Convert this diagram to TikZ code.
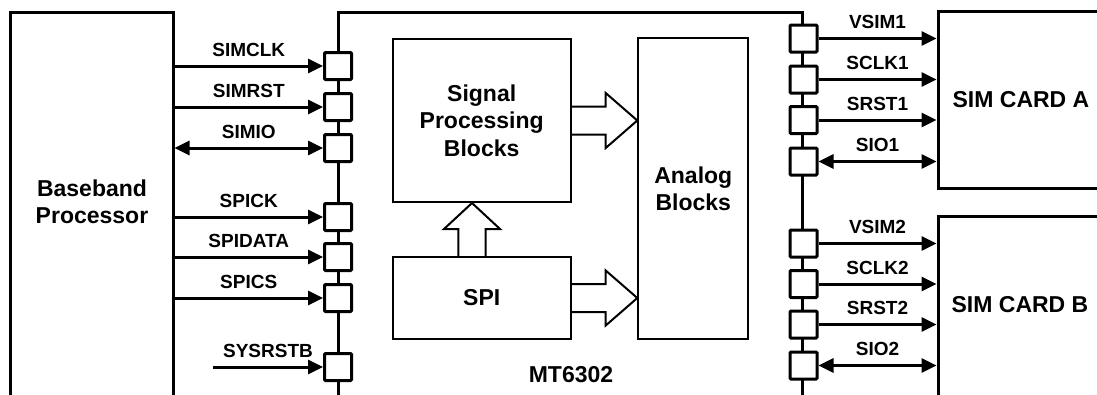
\documentclass[tikz,border=0pt]{standalone}
\usepackage{fontspec}
\setmainfont{Liberation Sans}
\usetikzlibrary{arrows.meta,calc}
\tikzset{
  thickbox/.style={draw, line width=3pt, inner sep=0pt, fill=white},
  thinbox/.style={draw, line width=2pt, inner sep=0pt, align=center, font=\bigfont},
  pin/.style={draw, line width=3pt, minimum size=27pt, inner sep=0pt, fill=white, rounded corners=1pt},
  sig/.style={line width=3pt, -{Triangle[length=15pt,width=14pt]}},
  bisig/.style={line width=3pt, {Triangle[length=15pt,width=14pt]}-{Triangle[length=15pt,width=14pt]}},
  lbl/.style={font=\lblfont, anchor=base, yshift=10pt, inner sep=0pt},
  big/.style={font=\bigfont, align=center, inner sep=0pt},
  barrow/.style={line width=2pt, line join=miter},
  chip/.style={line width=3pt}
}
\newcommand{\bigfont}{\fontsize{23}{27.5}\selectfont\bfseries}
\newcommand{\lblfont}{\fontsize{19}{22}\selectfont\bfseries}
\begin{document}
\begin{tikzpicture}[x=1pt,y=-1pt]
\useasboundingbox (0,0) rectangle (1097,394);
\clip (0,0) rectangle (1097,394);
\fill[white] (0,0) rectangle (1097,394);

% Baseband processor
\node[thickbox, minimum width=163pt, minimum height=388pt] (bb) at (91.5,206) {};
\node[big] (bbtext) at (92,202) {Baseband\\Processor};

% chip outline
\draw[chip] (338,400) -- (338,12) -- (802.5,12) -- (802.5,400);
\node[big] (mt) at (571,375) {MT6302};

% inner blocks
\node[thinbox, minimum width=178pt, minimum height=163pt] (sp) at (481.7,120.5) {Signal\\Processing\\Blocks};
\node[thinbox, minimum width=178pt, minimum height=82pt] (spi) at (481.7,298) {SPI};
\node[thinbox, minimum width=110pt, minimum height=301pt] (an) at (693.3,188.8) {Analog\\Blocks};

% block arrows
\draw[barrow] ($(sp.east)+(0,-14)$) -- ++(34,0) -- ++(0,-13.5) -- (an.west |- sp.east)
  -- ($(sp.east)+(34,27.5)$) -- ++(0,-13.5) -- ($(sp.east)+(0,14)$);
\draw[barrow] ($(spi.east)+(0,-14)$) -- ++(34,0) -- ++(0,-13.5) -- (an.west |- spi.east)
  -- ($(spi.east)+(34,27.5)$) -- ++(0,-13.5) -- ($(spi.east)+(0,14)$);
\draw[barrow] ($(spi.north)+(-23.4,0)$) -- ++(0,-27) -- ++(-14.3,0) -- ($(sp.south)+(-9.7,0)$)
  -- ($(spi.north)+(18.3,-27)$) -- ++(-14.3,0) -- ($(spi.north)+(4,0)$);

% left pins
\node[pin] (l1) at (338,66) {};
\node[pin] (l2) at (338,107) {};
\node[pin] (l3) at (338,148) {};
\node[pin] (l4) at (338,217) {};
\node[pin] (l5) at (338,257) {};
\node[pin] (l6) at (338,298) {};
\node[pin] (l7) at (338,367) {};

% right pins
\node[pin] (r1) at (803.5,38.5) {};
\node[pin] (r2) at (803.5,79.5) {};
\node[pin] (r3) at (803.5,120) {};
\node[pin] (r4) at (803.5,161.5) {};
\node[pin] (r5) at (803.5,243.5) {};
\node[pin] (r6) at (803.5,284) {};
\node[pin] (r7) at (803.5,324.5) {};
\node[pin] (r8) at (803.5,365.5) {};

% SIM cards
\node[thickbox, minimum width=166pt, minimum height=176.6pt, font=\bigfont] (ca) at (1021,100) {SIM CARD A};
\node[thickbox, minimum width=166pt, minimum height=183.3pt] (cb) at (1021,308.3) {};
\node[big] (cbtext) at (1020,305) {SIM CARD B};

% left signals
\draw[sig] (bb.east |- l1) -- (l1.west) node[lbl, midway] {SIMCLK};
\draw[sig] (bb.east |- l2) -- (l2.west) node[lbl, midway] {SIMRST};
\draw[bisig] (bb.east |- l3) -- (l3.west) node[lbl, midway] {SIMIO};
\draw[sig] (bb.east |- l4) -- (l4.west) node[lbl, midway] {SPICK};
\draw[sig] (bb.east |- l5) -- (l5.west) node[lbl, midway] {SPIDATA};
\draw[sig] (bb.east |- l6) -- (l6.west) node[lbl, midway] {SPICS};
\coordinate (sysin) at (213,367);
\draw[sig] (sysin) -- (l7.west) node[lbl, midway] {SYSRSTB};

% right signals
\draw[sig] (r1.east) -- (ca.west |- r1) node[lbl, midway] {VSIM1};
\draw[sig] (r2.east) -- (ca.west |- r2) node[lbl, midway] {SCLK1};
\draw[sig] (r3.east) -- (ca.west |- r3) node[lbl, midway] {SRST1};
\draw[bisig] (r4.east) -- (ca.west |- r4) node[lbl, midway] {SIO1};
\draw[sig] (r5.east) -- (cb.west |- r5) node[lbl, midway] {VSIM2};
\draw[sig] (r6.east) -- (cb.west |- r6) node[lbl, midway] {SCLK2};
\draw[sig] (r7.east) -- (cb.west |- r7) node[lbl, midway] {SRST2};
\draw[bisig] (r8.east) -- (cb.west |- r8) node[lbl, midway] {SIO2};
\end{tikzpicture}
\end{document}
